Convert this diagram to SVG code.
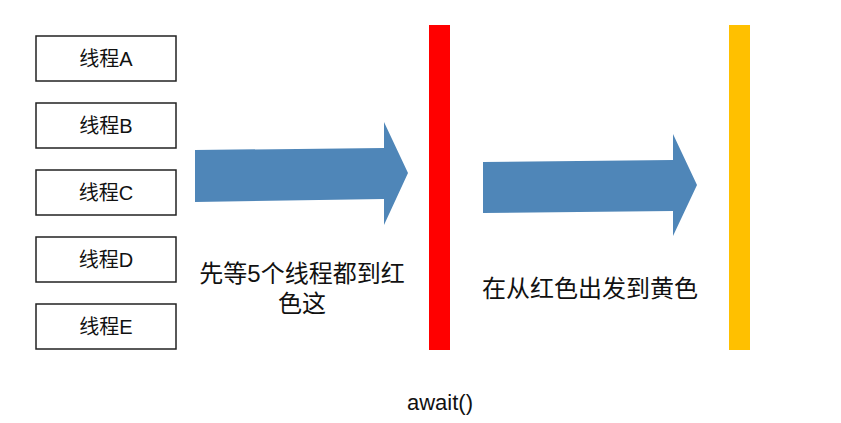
<svg xmlns="http://www.w3.org/2000/svg" width="841" height="423" viewBox="0 0 841 423">
<style>
.box{fill:#fff;stroke:#222;stroke-width:1.5}
.lbl{font-family:"Liberation Sans","Noto Sans CJK SC",sans-serif;font-size:20px;fill:#111;text-anchor:middle}
.txt{font-family:"Liberation Sans","Noto Sans CJK SC",sans-serif;font-size:24px;fill:#111;text-anchor:middle}
.arrow{fill:#4f86b8}
</style>
<rect width="841" height="423" fill="#fff"/>
<g id="threadA"><rect class="box" x="36" y="36" width="140" height="45"/><text class="lbl" x="106" y="66">线程A</text></g>
<g id="threadB"><rect class="box" x="36" y="103" width="140" height="45"/><text class="lbl" x="106" y="133">线程B</text></g>
<g id="threadC"><rect class="box" x="36" y="170" width="140" height="45"/><text class="lbl" x="106" y="200">线程C</text></g>
<g id="threadD"><rect class="box" x="36" y="237" width="140" height="45"/><text class="lbl" x="106" y="267">线程D</text></g>
<g id="threadE"><rect class="box" x="36" y="304" width="140" height="45"/><text class="lbl" x="106" y="334">线程E</text></g>
<g id="redBar"><rect x="429" y="25" width="21" height="325" fill="#ff0000"/></g>
<g id="yellowBar"><rect x="729" y="25" width="21" height="325" fill="#ffc000"/></g>
<g id="connectors">
<polygon class="arrow" points="195,150 384,148 384,122 408,173 384,225 384,199 195,202"/>
<polygon class="arrow" points="483,162 673,160 673,134 697,185 673,236 673,211 483,213"/>
</g>
<g id="labels">
<text class="txt" x="302" y="282">先等5个线程都到红</text>
<text class="txt" x="302" y="312">色这</text>
<text class="txt" x="590" y="297">在从红色出发到黄色</text>
<text class="txt" x="440" y="410" style="font-size:22px">await()</text>
</g>
</svg>
